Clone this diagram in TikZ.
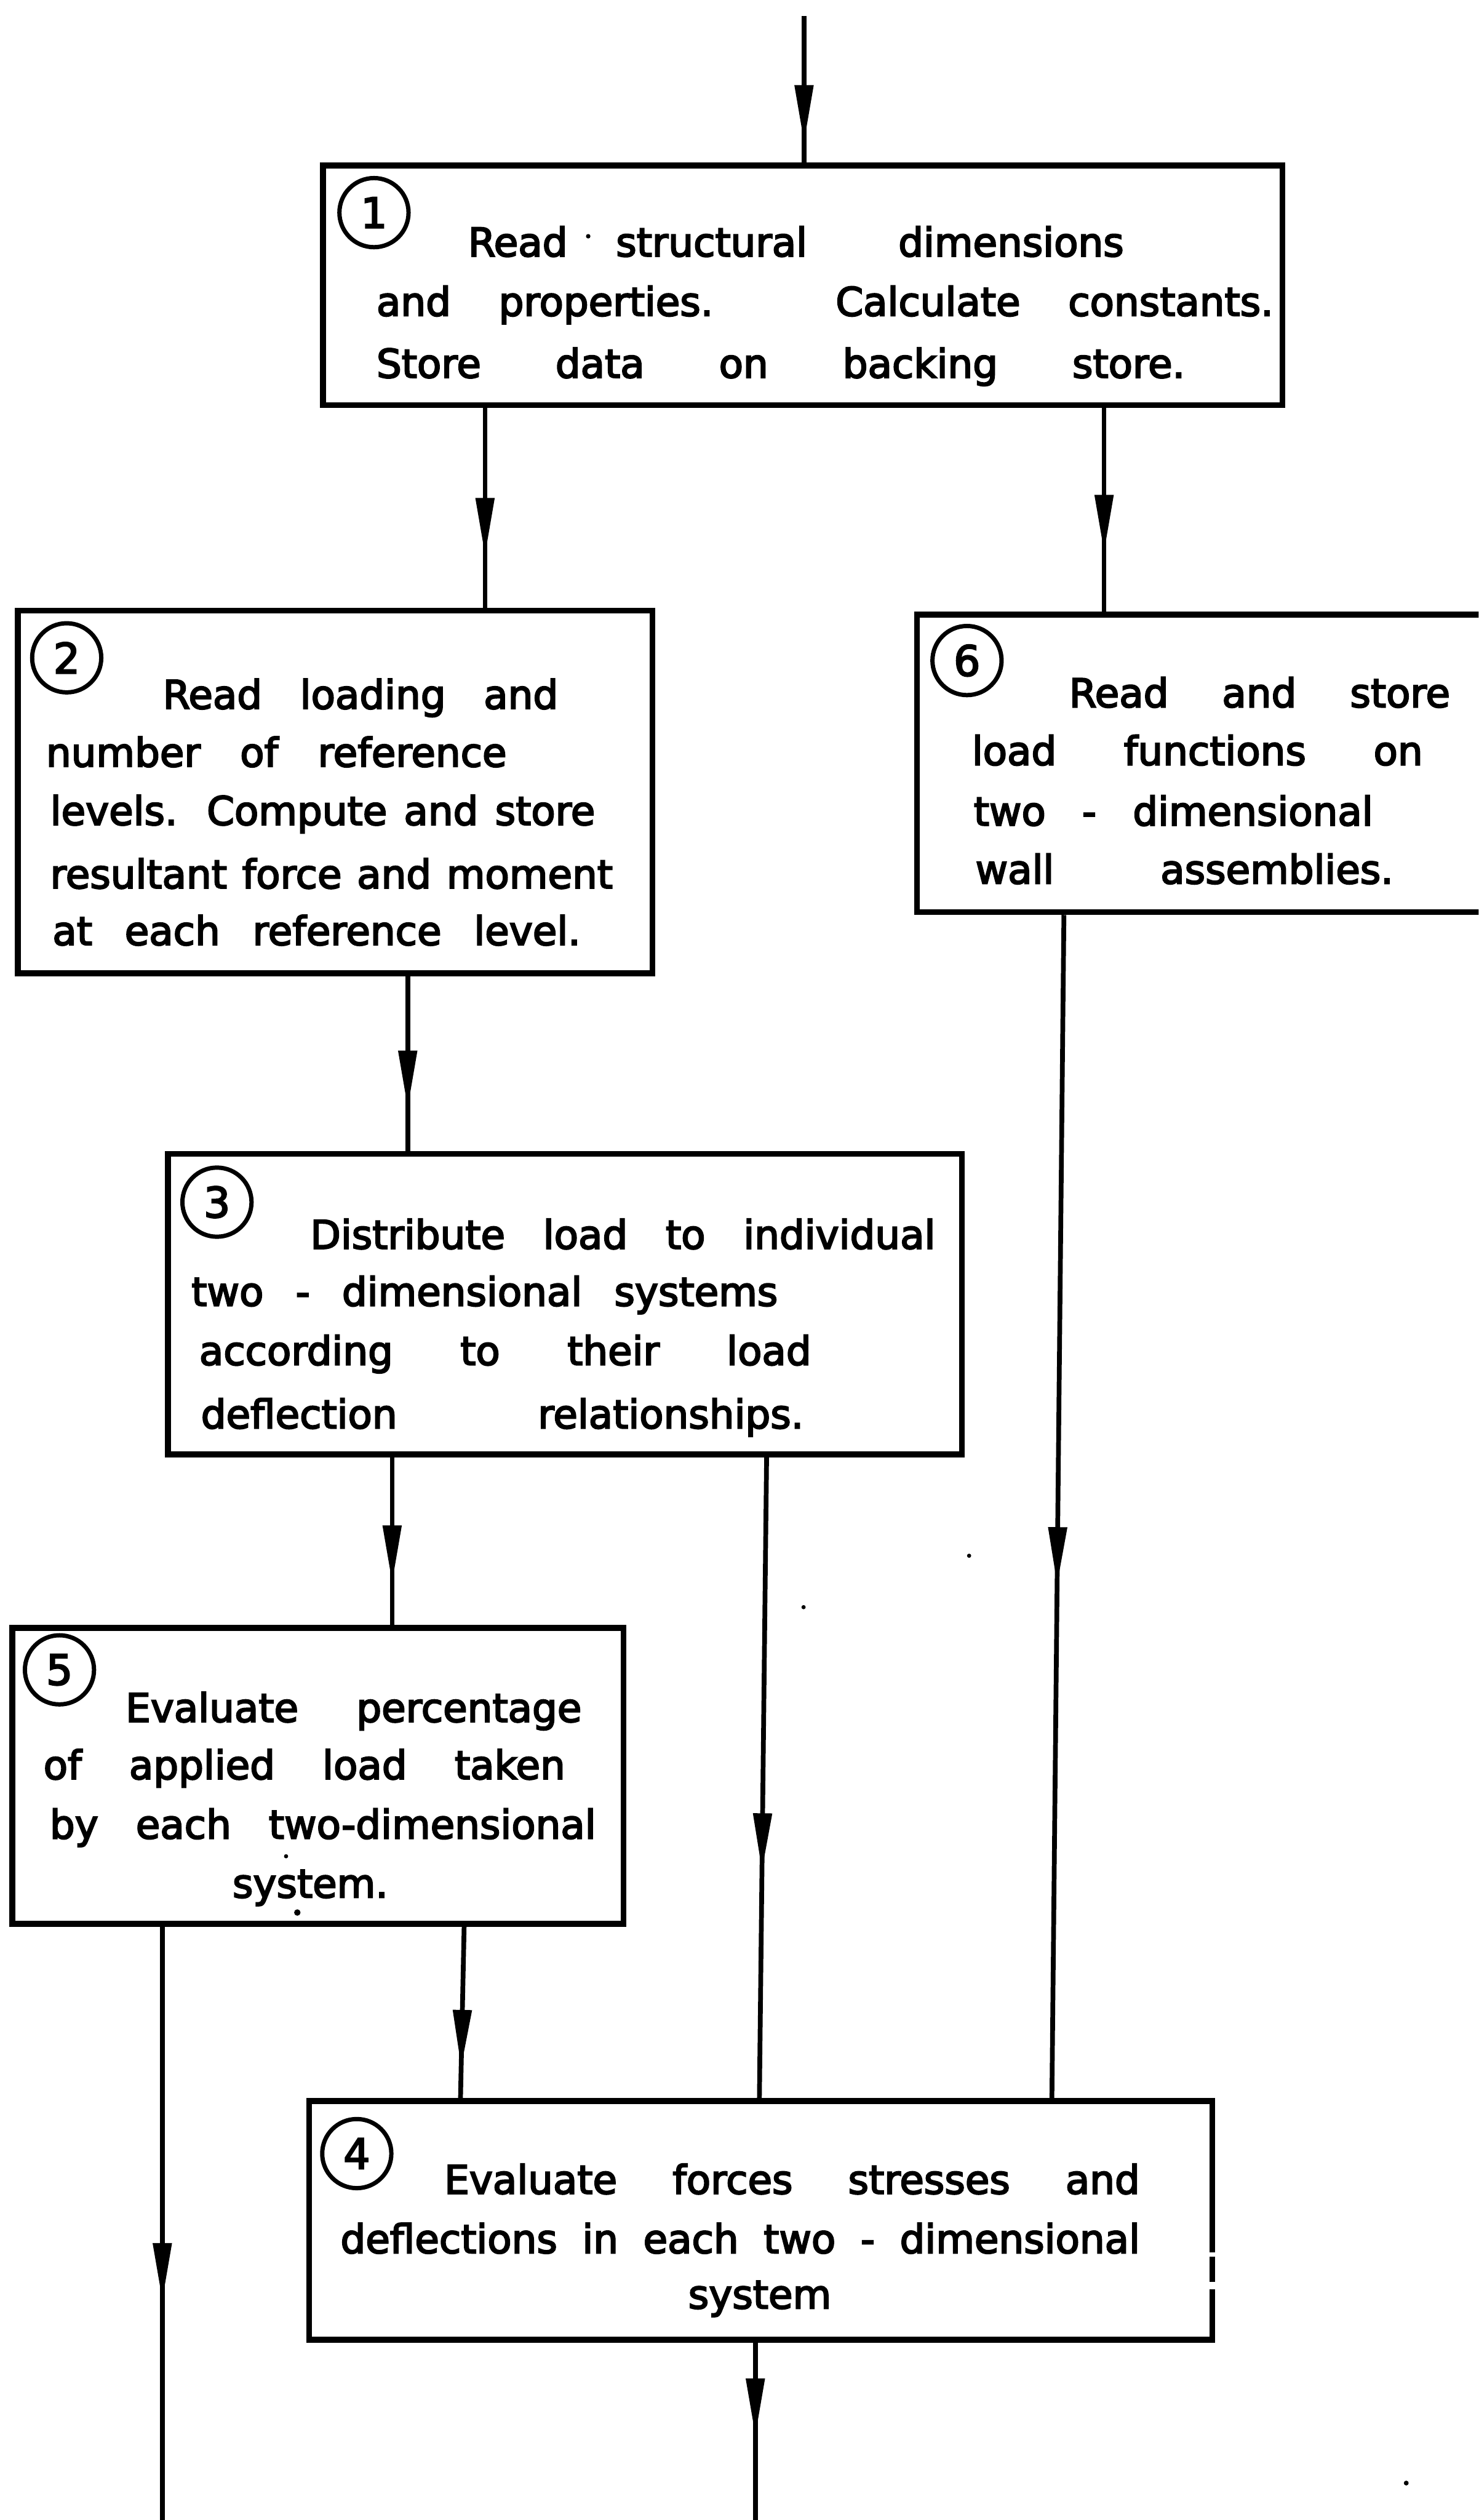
\documentclass[tikz,border=0pt]{standalone}
\usepackage{fontspec}
\setmainfont{DejaVu Sans}[FakeBold=3.5]
\usetikzlibrary{arrows.meta,decorations.markings,fit}

% a text line stretched between x0 and x1 on baseline y: {name}{x0}{x1}{y}{text}
\newcommand{\tline}[5]{\pgfmathsetlengthmacro{\tlw}{(#3-#2)*0.025cm}%
  \node[txt,anchor=base west] (#1) at (#2,#4) {\makebox[\tlw][s]{#5}};}

\tikzset{
  txt/.style={inner sep=0pt, font=\fontsize{17.5}{21}\selectfont},
  box/.style={draw, line width=2.6pt, inner sep=0pt, rectangle},
  boxnd/.style={inner sep=0pt, rectangle},
  boxline/.style={line width=2.6pt, line join=miter},
  numc/.style={circle, draw, line width=1.9pt, minimum size=1.075cm, inner sep=0pt,
    font=\fontsize{18.5}{20}\selectfont},
  conn/.style={line width=2.1pt},
  midarrow/.style={postaction={decorate, decoration={markings,
    mark=at position #1 with {\arrow{Triangle[length=0.9cm,width=0.28cm]}}}}},
}

\begin{document}
\begin{tikzpicture}[x=0.025cm, y=-0.025cm]
\useasboundingbox (0,0) rectangle (920,1568);
\fill[white] (0,0) rectangle (920,1568);
\clip (0,0) rectangle (920,1568);

% ---------- boxes ----------
\node[box, fit={(201,103) (798,252)}] (b1) {};
\node[box, fit={(11,380) (406,605.5)}] (b2) {};
\node[box, fit={(570.5,382.5) (950,567.5)}] (b6) {};
\node[box, fit={(104.5,718) (598.5,905)}] (b3) {};
\node[box, fit={(7.7,1013) (388,1197)}] (b5) {};
\node[boxnd, fit={(192.6,1307.5) (754,1455.5)}] (b4) {};
% outline of box 4, its right side broken twice
\coordinate (g1) at (0,1401.5);
\coordinate (g2) at (0,1404);
\coordinate (g3) at (0,1420);
\coordinate (g4) at (0,1424.5);
\draw[boxline] (b4.east |- g4) -- (b4.south east) -- (b4.south west)
  -- (b4.north west) -- (b4.north east) -- (b4.east |- g1);
\draw[boxline] (b4.east |- g2) -- (b4.east |- g3);

% ---------- numbered circles ----------
\node[numc] (c1) at (232.7,132.3) {1};
\node[numc] (c2) at (41.5,409.3) {2};
\node[numc] (c6) at (601.7,411) {6};
\node[numc] (c3) at (135,748) {3};
\node[numc] (c5) at (37,1039) {5};
\node[numc] (c4) at (222,1340) {4};

% ---------- box texts ----------
\node[txt, anchor=base west] (t11a) at (291,159.5) {Read};
\tline{t11b}{383}{699}{159.5}{structural dimensions}
\tline{t12}{234}{792}{196.5}{and properties. Calculate constants.}
\tline{t13}{234}{737}{235}{Store data on backing store.}

\tline{t21}{101}{347}{441}{Read loading and}
\tline{t22}{28.4}{315}{477}{number of reference}
\tline{t23}{31}{370}{513.3}{levels. Compute and store}
\tline{t24}{31}{381}{552.7}{resultant force and moment}
\tline{t25}{32.4}{361}{588}{at each reference level.}

\tline{t61}{665}{902}{440}{Read and store}
\tline{t62}{604.5}{885}{476}{load functions on}
\tline{t63}{605.6}{854}{513.6}{two - dimensional}
\tline{t64}{606.7}{866.7}{549.8}{wall assemblies.}

\tline{t31}{192.8}{581.7}{777}{Distribute load to individual}
\tline{t32}{118.9}{483.7}{812.5}{two - dimensional systems}
\tline{t33}{123.7}{504.5}{849.3}{according to their load}
\tline{t34}{124.8}{499.7}{888.7}{deflection relationships.}

\tline{t51}{77.9}{361.6}{1071.4}{Evaluate percentage}
\tline{t52}{26.8}{351.4}{1107}{of applied load taken}
\tline{t53}{30.7}{370.5}{1144}{by each two-dimensional}
\node[txt, anchor=base west] (t54) at (144.4,1180.7) {system.};

\tline{t41}{276.2}{709}{1365}{Evaluate forces stresses and}
\tline{t42}{211.6}{709}{1401.9}{deflections in each two - dimensional}
\node[txt, anchor=base west] (t43) at (428,1436.4) {system};

% ---------- connectors ----------
\coordinate (in) at (500.3,10);
\coordinate (xa) at (301.8,0);
\coordinate (xb) at (687,0);
\coordinate (xc) at (253.7,0);
\coordinate (xd) at (244,0);
\coordinate (xe1) at (477,0);
\coordinate (xe2) at (472.5,0);
\coordinate (xf) at (662,0);
\coordinate (xg) at (654.5,0);
\coordinate (xh1) at (288.8,0);
\coordinate (xh2) at (286.5,0);
\coordinate (out5) at (101,1572);
\coordinate (out4) at (470,1572);

\draw[conn, midarrow=0.866] (in) -- (in |- b1.north);
\draw[conn, midarrow=0.74] (b1.south -| xa) -- (b2.north -| xa);
\draw[conn, midarrow=0.71] (b1.south -| xb) -- (b6.north -| xb);
\draw[conn, midarrow=0.757] (b2.south -| xc) -- (b3.north -| xc);
\draw[conn, midarrow=0.75] (b3.south -| xd) -- (b5.north -| xd);
\draw[conn, midarrow=0.643] (b3.south -| xe1) -- (b4.north -| xe2);
\draw[conn, midarrow=0.565] (b6.south -| xf) -- (b4.north -| xg);
\draw[conn, midarrow=0.81] (b5.south -| xh1) -- (b4.north -| xh2);
\draw[conn, midarrow=0.624] (b5.south -| out5) -- (out5);
\draw[conn, midarrow=0.517] (b4.south -| out4) -- (out4);

% ---------- specks ----------
\fill (366,147) circle (1.4);
\fill (178,1155) circle (1.3);
\fill (185,1190) circle (2);
\fill (603,968) circle (1.3);
\fill (500,1000) circle (1.3);
\fill (875,1545) circle (1.5);
\end{tikzpicture}
\end{document}
